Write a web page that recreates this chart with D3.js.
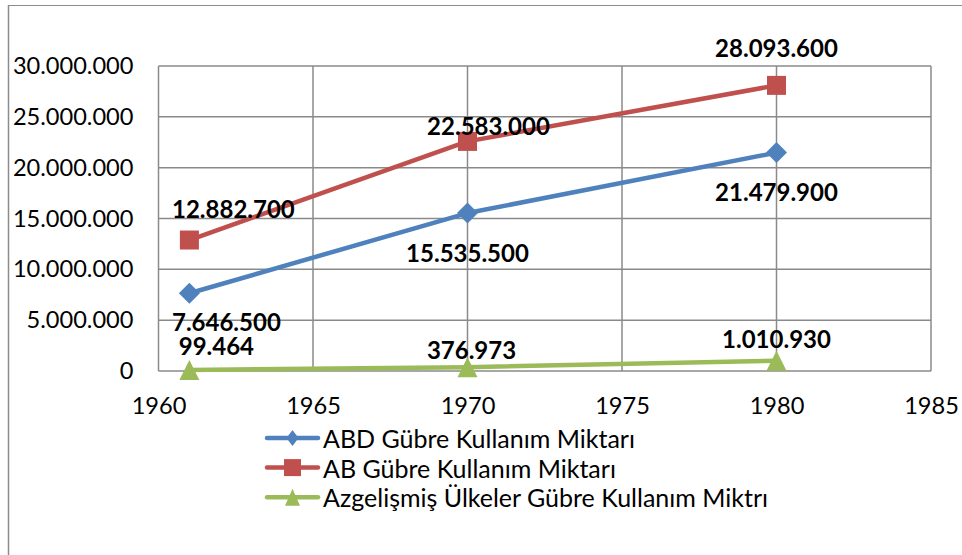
<!DOCTYPE html>
<html><head><meta charset="utf-8">
<script src="https://cdn.jsdelivr.net/npm/d3@7/dist/d3.min.js"></script>
<style>
html,body{margin:0;padding:0;background:#fff;}
svg{display:block;font-family:Lato,"Open Sans",sans-serif;}
</style></head>
<body><svg id="c" width="962" height="555"></svg>
<script>
const years = [1961, 1970, 1980];
const abd = [7646500, 15535500, 21479900];
const ab = [12882700, 22583000, 28093600];
const azg = [99464, 376973, 1010930];
const seriesNames = ["ABD Gübre Kullanım Miktarı", "AB Gübre Kullanım Miktarı", "Azgelişmiş Ülkeler Gübre Kullanım Miktrı"];
const xTicks = [1960, 1965, 1970, 1975, 1980, 1985];
const yTicks = [0, 5000000, 10000000, 15000000, 20000000, 25000000, 30000000];

const colors = ["#4F81BD", "#C0504D", "#9BBB59"];
const markers = ["diamond", "square", "triangle"];
// label offsets (styling)
const labelOff = [
  [[37, 28], [0, 39], [0, 39]],
  [[44, -32], [21, -16], [0, -38]],
  [[27, -24], [4, -18], [0, -22]]
];

const fmt = d3.formatLocale({decimal: ",", thousands: ".", grouping: [3], currency: ["", ""]}).format(",d");
const svg = d3.select("#c");
const W = 962, H = 555;

// outer border
svg.append("line").attr("x1", 8).attr("x2", W).attr("y1", 5.5).attr("y2", 5.5).attr("stroke", "#8c8c8c").attr("stroke-width", 1.2);
svg.append("line").attr("x1", 8.5).attr("x2", 8.5).attr("y1", 5).attr("y2", H).attr("stroke", "#8c8c8c").attr("stroke-width", 1.5);

const x = d3.scaleLinear().domain([1960, 1985]).range([158.5, 931]);
const y = d3.scaleLinear().domain([0, 30000000]).range([371, 66]);

const grid = svg.append("g");
grid.selectAll(".h").data(yTicks).join("line")
  .attr("x1", x(1960)).attr("x2", x(1985)).attr("y1", d => y(d)).attr("y2", d => y(d))
  .attr("stroke", "#8a8a8a").attr("stroke-width", 1.5);
grid.selectAll(".v").data(xTicks).join("line")
  .attr("x1", d => x(d)).attr("x2", d => x(d)).attr("y1", y(0)).attr("y2", y(30000000))
  .attr("stroke", "#8a8a8a").attr("stroke-width", 1.5);

const yAxis = svg.append("g").attr("transform", `translate(${x(1960) - 25},0)`)
  .call(d3.axisLeft(y).tickValues(yTicks).tickSize(0).tickPadding(0).tickFormat(fmt));
yAxis.select(".domain").remove();
yAxis.selectAll("text").attr("font-size", 23.6).attr("fill", "#000").attr("font-family", "Lato");

const xAxis = svg.append("g").attr("transform", `translate(0,${y(0) + 26})`)
  .call(d3.axisBottom(x).tickValues(xTicks).tickSize(0).tickPadding(0).tickFormat(d3.format("d")));
xAxis.select(".domain").remove();
xAxis.selectAll("text").attr("font-size", 23.6).attr("fill", "#000").attr("font-family", "Lato");

const allSeries = [abd, ab, azg];
const line = d3.line().x((d, i) => x(years[i])).y(d => y(d));

function marker(g, type, size, color, h) {
  let p;
  const s = size / 2, t = (h || size) / 2;
  if (type === "diamond") {
    p = `M0,${-t}L${s},0L0,${t}L${-s},0Z`;
  } else if (type === "square") {
    p = `M${-s},${-s}H${s}V${s}H${-s}Z`;
  } else {
    p = `M0,${-t}L${s},${t}L${-s},${t}Z`;
  }
  g.append("path").attr("d", p).attr("fill", color);
}

allSeries.forEach((vals, si) => {
  svg.append("path").datum(vals).attr("d", line).attr("fill", "none")
    .attr("stroke", colors[si]).attr("stroke-width", 4.5).attr("stroke-linejoin", "round").attr("stroke-linecap", "round");
  vals.forEach((v, i) => {
    const g = svg.append("g").attr("transform", `translate(${x(years[i])},${y(v)})`);
    marker(g, markers[si], si === 0 ? 21 : (si === 1 ? 19 : 20), colors[si]);
  });
});

allSeries.forEach((vals, si) => {
  vals.forEach((v, i) => {
    svg.append("text").attr("x", x(years[i]) + labelOff[si][i][0]).attr("y", y(v) + labelOff[si][i][1])
      .attr("text-anchor", "middle").attr("dominant-baseline", "central")
      .attr("font-size", 24).attr("font-weight", "bold").attr("font-family", "Lato").attr("fill", "#000")
      .text(fmt(v));
  });
});

// legend
const lg = svg.append("g");
seriesNames.forEach((name, si) => {
  const ly = 438 + si * 29.6;
  lg.append("line").attr("x1", 267).attr("x2", 318).attr("y1", ly).attr("y2", ly)
    .attr("stroke", colors[si]).attr("stroke-width", 4.5).attr("stroke-linecap", "round");
  const g = lg.append("g").attr("transform", `translate(292.5,${ly})`);
  marker(g, markers[si], si === 0 ? 12 : (si === 1 ? 17 : 15), colors[si], si === 0 ? 16 : 17);
  lg.append("text").attr("x", 323).attr("y", ly).attr("dominant-baseline", "central")
    .attr("font-size", 25).attr("font-family", "Lato").attr("fill", "#000").text(name);
});
</script></body></html>
